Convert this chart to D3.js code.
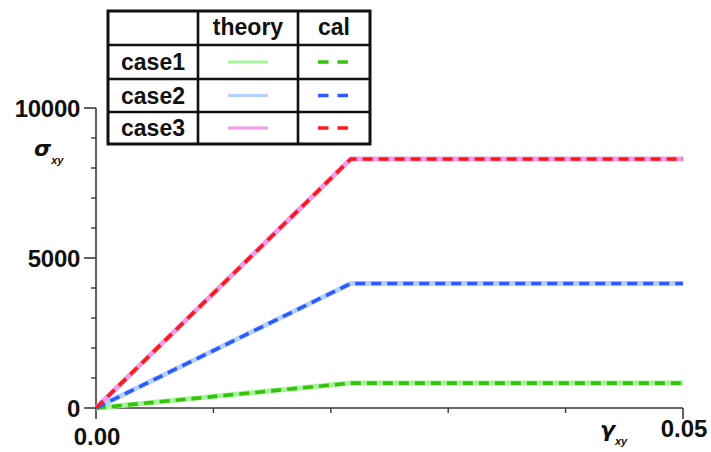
<!DOCTYPE html>
<html><head><meta charset="utf-8">
<script src="https://cdn.jsdelivr.net/npm/d3@7"></script>
<style>body{margin:0;background:#fff}svg{display:block}</style>
</head><body>
<script>
// ---- data ----
const strain = [0, 0.0217, 0.05];
const caseNames = ["case1", "case2", "case3"];
const case1 = [0, 830, 830];
const case2 = [0, 4150, 4150];
const case3 = [0, 8300, 8300];
const theoryColors = ["#a6f59a", "#b3d1ff", "#f29bea"];
const calColors = ["#33c40a", "#2a5cff", "#ff1a1a"];
const yMajorTicks = [0, 5000, 10000];
const yMinorTicks = [1000, 2000, 3000, 4000, 6000, 7000, 8000, 9000];
const xMajorTicks = [0, 0.05];
const xMinorTicks = [0.01, 0.02, 0.03, 0.04];
const tableHeaders = ["", "theory", "cal"];

const series = [case1, case2, case3];
const W = 711, H = 452;
const svg = d3.select("body").append("svg").attr("width", W).attr("height", H);
const x = d3.scaleLinear().domain([0, 0.05]).range([96, 683]);
const y = d3.scaleLinear().domain([0, 10000]).range([408, 108]);
const font = "'Liberation Sans', Arial, sans-serif";
const greek = "'DejaVu Sans', sans-serif";
const axisColor = "#3a3a3a";

// axes
const g = svg.append("g");
g.append("line").attr("x1", x(0)).attr("x2", x(0)).attr("y1", y(10000)).attr("y2", y(0))
  .attr("stroke", axisColor).attr("stroke-width", 1.6);
g.append("line").attr("x1", x(0)).attr("x2", x(0.05)).attr("y1", y(0)).attr("y2", y(0))
  .attr("stroke", axisColor).attr("stroke-width", 1.6);
g.selectAll(".ymaj").data(yMajorTicks).join("line")
  .attr("x1", x(0) - 12).attr("x2", x(0)).attr("y1", d => y(d)).attr("y2", d => y(d))
  .attr("stroke", axisColor).attr("stroke-width", 1.6);
g.selectAll(".ymin").data(yMinorTicks).join("line")
  .attr("x1", x(0) - 5).attr("x2", x(0)).attr("y1", d => y(d)).attr("y2", d => y(d))
  .attr("stroke", axisColor).attr("stroke-width", 1.4);
g.selectAll(".xmaj").data(xMajorTicks).join("line")
  .attr("x1", d => x(d)).attr("x2", d => x(d)).attr("y1", y(0)).attr("y2", y(0) + 11)
  .attr("stroke", axisColor).attr("stroke-width", 1.6);
g.selectAll(".xmin").data(xMinorTicks).join("line")
  .attr("x1", d => x(d)).attr("x2", d => x(d)).attr("y1", y(0)).attr("y2", y(0) + 5)
  .attr("stroke", axisColor).attr("stroke-width", 1.4);

// tick labels
g.selectAll(".ylab").data(yMajorTicks).join("text")
  .attr("x", x(0) - 16).attr("y", d => y(d) + 8.5)
  .attr("text-anchor", "end").attr("font-family", font).attr("font-weight", "bold")
  .attr("font-size", 24).attr("letter-spacing", -0.3).attr("fill", "#111").text(d => d);
g.append("text").attr("x", x(0) + 1).attr("y", 445).attr("text-anchor", "middle")
  .attr("font-family", font).attr("font-weight", "bold").attr("font-size", 24).attr("fill", "#111")
  .text(d3.format(".2f")(xMajorTicks[0]));
g.append("text").attr("x", x(0.05) + 1).attr("y", 437).attr("text-anchor", "middle")
  .attr("font-family", font).attr("font-weight", "bold").attr("font-size", 24).attr("fill", "#111")
  .text(d3.format(".2f")(xMajorTicks[1]));

// axis titles
const sig = g.append("text").attr("x", 34).attr("y", 156).attr("font-family", greek)
  .attr("font-weight", "bold").attr("font-style", "italic").attr("font-size", 22).attr("fill", "#111");
sig.append("tspan").text("σ");
sig.append("tspan").attr("font-family", font).attr("font-size", 11).attr("dy", 8).text("xy");
const gam = g.append("text").attr("x", 600).attr("y", 437).attr("font-family", greek)
  .attr("font-weight", "bold").attr("font-style", "italic").attr("font-size", 22).attr("fill", "#111");
gam.append("tspan").text("γ");
gam.append("tspan").attr("font-family", font).attr("font-size", 11).attr("dy", 8).text("xy");

// lines
const line = d3.line().x((d, i) => x(strain[i])).y(d => y(d));
svg.selectAll(".theory").data(series).join("path")
  .attr("d", d => line(d)).attr("fill", "none")
  .attr("stroke", (d, i) => theoryColors[i]).attr("stroke-width", 5).attr("stroke-linejoin", "round");
svg.selectAll(".cal").data(series).join("path")
  .attr("d", d => line(d)).attr("fill", "none")
  .attr("stroke", (d, i) => calColors[i]).attr("stroke-width", 3.6)
  .attr("stroke-dasharray", "10,6");

// legend table
const colX = [108, 198, 298, 370];
const rowY = [11, 45, 79, 112, 144];
const t = svg.append("g");
t.append("rect").attr("x", colX[0]).attr("y", rowY[0]).attr("width", colX[3] - colX[0])
  .attr("height", rowY[4] - rowY[0]).attr("fill", "#fff").attr("stroke", "#111").attr("stroke-width", 3);
[1, 2].forEach(i => t.append("line").attr("x1", colX[i]).attr("x2", colX[i])
  .attr("y1", rowY[0]).attr("y2", rowY[4]).attr("stroke", "#111").attr("stroke-width", 2.6));
[1, 2, 3].forEach(i => t.append("line").attr("x1", colX[0]).attr("x2", colX[3])
  .attr("y1", rowY[i]).attr("y2", rowY[i]).attr("stroke", "#111").attr("stroke-width", 2.6));
tableHeaders.forEach((h, j) => t.append("text")
  .attr("x", (colX[j] + colX[j + 1]) / 2).attr("y", (rowY[0] + rowY[1]) / 2 + 7)
  .attr("text-anchor", "middle").attr("font-family", font).attr("font-weight", "bold")
  .attr("font-size", 23).attr("fill", "#111").text(h));
caseNames.forEach((c, i) => {
  const cy = (rowY[i + 1] + rowY[i + 2]) / 2;
  t.append("text").attr("x", (colX[0] + colX[1]) / 2).attr("y", cy + 8)
    .attr("text-anchor", "middle").attr("font-family", font).attr("font-weight", "bold")
    .attr("font-size", 23).attr("fill", "#111").text(c);
  const cx1 = (colX[1] + colX[2]) / 2;
  t.append("line").attr("x1", cx1 - 20).attr("x2", cx1 + 20).attr("y1", cy).attr("y2", cy)
    .attr("stroke", theoryColors[i]).attr("stroke-width", 3);
  const cx2 = (colX[2] + colX[3]) / 2;
  t.append("line").attr("x1", cx2 - 16).attr("x2", cx2 + 16).attr("y1", cy).attr("y2", cy)
    .attr("stroke", calColors[i]).attr("stroke-width", 3.5).attr("stroke-dasharray", "10.5,9");
});
</script>
</body></html>
